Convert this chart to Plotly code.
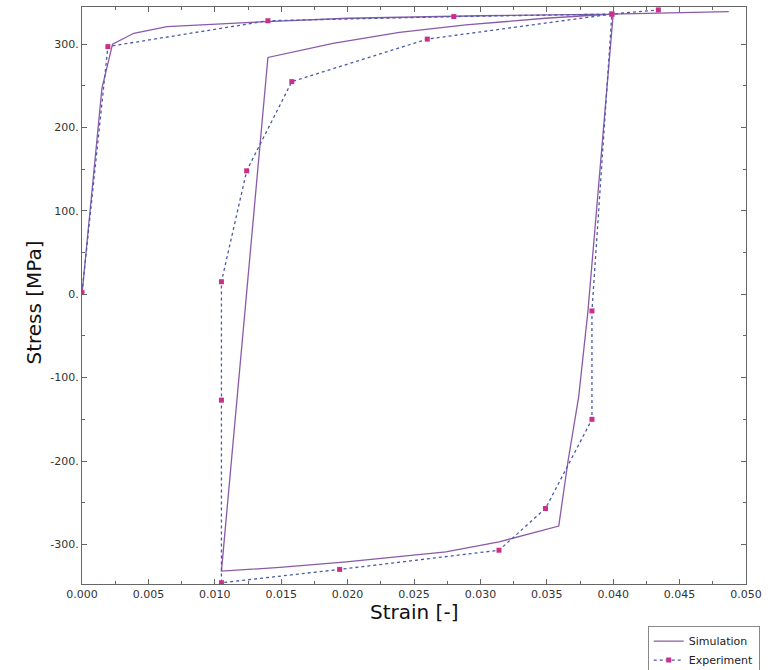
import plotly.graph_objects as go

# Simulation path (strain [-], stress [MPa])
sim_strain = [0.0, 0.0015, 0.0023, 0.0039, 0.0064, 0.0099, 0.0139, 0.0200, 0.0300, 0.0400,
              0.0381, 0.0374, 0.0366, 0.0359, 0.0314, 0.0274, 0.0199, 0.0149, 0.0105,
              0.0140, 0.0189, 0.0239, 0.0289, 0.0349, 0.0399, 0.0487]
sim_stress = [0, 247, 300, 313, 321, 324, 327, 331, 334, 336,
              -20, -123, -200, -278, -297, -309, -321, -327.6, -332,
              284, 301, 314, 323, 331, 336, 339]

# Experiment points
exp_strain = [0.0, 0.00195, 0.0140, 0.0280, 0.0399, 0.0384, 0.0384, 0.0349, 0.0314, 0.0194,
              0.0105, 0.0105, 0.0105, 0.0124, 0.0158, 0.0260, 0.0399, 0.0434]
exp_stress = [2, 297, 328, 333, 336, -20, -150, -257, -307, -330,
              -346, -127, 15, 148, 255, 306, 336, 341]

x_ticks = [0.0, 0.005, 0.010, 0.015, 0.020, 0.025, 0.030, 0.035, 0.040, 0.045, 0.050]
x_tick_text = ["0.000", "0.005", "0.010", "0.015", "0.020", "0.025",
               "0.030", "0.035", "0.040", "0.045", "0.050"]
y_ticks = [-300, -200, -100, 0, 100, 200, 300]
y_tick_text = ["-300.", "-200.", "-100.", "0.", "100.", "200.", "300."]

fig = go.Figure()
fig.add_trace(go.Scatter(
    x=sim_strain, y=sim_stress, mode="lines", name="Simulation",
    line=dict(color="#8a5aa8", width=1.3),
))
fig.add_trace(go.Scatter(
    x=exp_strain, y=exp_stress, mode="lines+markers", name="Experiment",
    line=dict(color="#4a5aa8", width=1.3, dash="dot"),
    marker=dict(symbol="square", size=5, color="#c8308a"),
))

axis_common = dict(
    showline=True, linecolor="#666", linewidth=1, mirror="ticks",
    ticks="inside", ticklen=5, tickcolor="#666",
    showgrid=False, zeroline=False, automargin=False,
    tickfont=dict(family="DejaVu Sans", size=11, color="#333"),
)

fig.update_layout(
    width=771, height=670,
    margin=dict(l=82, r=25, t=7, b=86, autoexpand=False),
    paper_bgcolor="white", plot_bgcolor="white",
    xaxis=dict(range=[0, 0.05], tickvals=x_ticks, ticktext=x_tick_text,
               minor=dict(ticks="inside", ticklen=3, tickcolor="#666", dtick=0.0025),
               **axis_common),
    yaxis=dict(range=[-347.5, 344.5], tickvals=y_ticks, ticktext=y_tick_text,
               minor=dict(ticks="inside", ticklen=3, tickcolor="#666", dtick=50),
               **axis_common),
    legend=dict(x=0.852, y=-0.072, xanchor="left", yanchor="top",
                bordercolor="#888", borderwidth=1, bgcolor="white",
                font=dict(family="DejaVu Sans", size=11, color="#222"),
                itemwidth=30, tracegroupgap=0),
    showlegend=True,
    annotations=[
        dict(text="Strain [-]", xref="paper", yref="paper", x=0.5, y=-0.048,
             xanchor="center", yanchor="middle", showarrow=False,
             font=dict(family="DejaVu Sans", size=20, color="#111")),
        dict(text="Stress [MPa]", xref="paper", yref="paper", x=-0.073, y=0.487,
             xanchor="center", yanchor="middle", showarrow=False, textangle=-90,
             font=dict(family="DejaVu Sans", size=20, color="#111")),
    ],
)

fig.write_html("out.html", post_script="document.body.style.margin='0';",
               config={"displayModeBar": False})
